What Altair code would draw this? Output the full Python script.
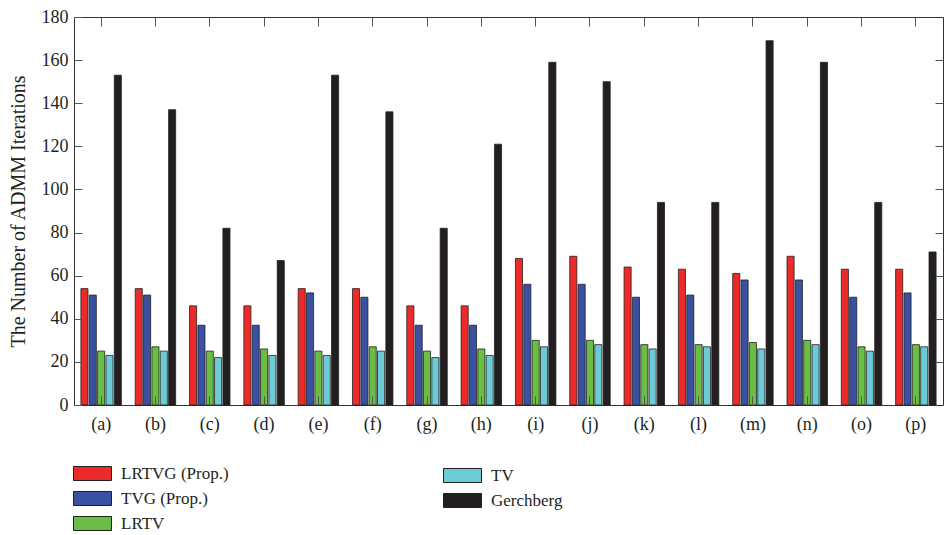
import altair as alt
import pandas as pd

# ---- data ----
images = ["(a)", "(b)", "(c)", "(d)", "(e)", "(f)", "(g)", "(h)",
          "(i)", "(j)", "(k)", "(l)", "(m)", "(n)", "(o)", "(p)"]
methods = ["LRTVG (Prop.)", "TVG (Prop.)", "LRTV", "TV", "Gerchberg"]
lrtvg = [54, 54, 46, 46, 54, 54, 46, 46, 68, 69, 64, 63, 61, 69, 63, 63]
tvg = [51, 51, 37, 37, 52, 50, 37, 37, 56, 56, 50, 51, 58, 58, 50, 52]
lrtv = [25, 27, 25, 26, 25, 27, 25, 26, 30, 30, 28, 28, 29, 30, 27, 28]
tv = [23, 25, 22, 23, 23, 25, 22, 23, 27, 28, 26, 27, 26, 28, 25, 27]
gerchberg = [153, 137, 82, 67, 153, 136, 82, 121, 159, 150, 94, 94, 169, 159, 94, 71]
y_ticks = [0, 20, 40, 60, 80, 100, 120, 140, 160, 180]

colors = ["#ED2A2A", "#3A50A1", "#6ABD45", "#6DCBD6", "#231F20"]

rows = []
for m, vals in zip(methods, [lrtvg, tvg, lrtv, tv, gerchberg]):
    for img, v in zip(images, vals):
        rows.append({"image": img, "method": m, "value": v})
df = pd.DataFrame(rows)

FONT = "Liberation Serif"
INK = "#231F20"
TICK = "#555555"
# wide rectangle (38 x 14 px when symbolSize = 196)
RECT = "M-2.714,-1H2.714V1H-2.714Z"

xscale = alt.Scale(domain=images, paddingInner=0.255, paddingOuter=0.127)
xoscale = alt.Scale(domain=methods, paddingInner=0.15, paddingOuter=0)
yscale = alt.Scale(domain=[0, 180], nice=False)


def legend(x, y):
    return alt.Legend(title=None, orient="none", legendX=x, legendY=y,
                      symbolType=RECT, symbolSize=196, symbolOffset=12,
                      symbolStrokeColor=INK, symbolStrokeWidth=1, symbolOpacity=1,
                      labelFont=FONT, labelFontSize=17, labelColor=INK,
                      labelOffset=20, rowPadding=6, padding=0)


base = alt.Chart(df)

x_bottom = alt.X("image:N", scale=xscale, sort=images,
                 axis=alt.Axis(orient="bottom", title=None, offset=-9, tickSize=9,
                               domain=False, labelPadding=10, labelAngle=0,
                               labelFont=FONT, labelFontSize=18, labelColor=INK,
                               tickColor=TICK, zindex=1))
y_left = alt.Y("value:Q", scale=yscale,
               axis=alt.Axis(orient="left", title="The Number of ADMM Iterations",
                             values=y_ticks, offset=-8, tickSize=8, domain=False,
                             grid=False, labelPadding=6, labelFont=FONT,
                             labelFontSize=18, labelColor=INK, tickColor=TICK,
                             titleFont=FONT, titleFontSize=20, titleFontWeight="normal",
                             titleColor=INK, titlePadding=13, zindex=1))
x_off = alt.XOffset("method:N", scale=xoscale, sort=methods)

bars1 = base.transform_filter(
    alt.FieldOneOfPredicate(field="method", oneOf=methods[:3])
).mark_bar(stroke=INK, strokeWidth=0.8).encode(
    x=x_bottom, xOffset=x_off, y=y_left,
    color=alt.Color("method:N", sort=methods[:3],
                    scale=alt.Scale(domain=methods[:3], range=colors[:3]),
                    legend=legend(-2, 448)),
)

bars2 = base.transform_filter(
    alt.FieldOneOfPredicate(field="method", oneOf=methods[3:])
).mark_bar(stroke=INK, strokeWidth=0.8).encode(
    x=alt.X("image:N", scale=xscale, sort=images, axis=None),
    xOffset=x_off,
    y=alt.Y("value:Q", scale=yscale, axis=None),
    color=alt.Color("method:N", sort=methods[3:],
                    scale=alt.Scale(domain=methods[3:], range=colors[3:]),
                    legend=legend(368, 450)),
)

frame = base.mark_bar(opacity=0).encode(
    x=alt.X("image:N", scale=xscale, sort=images,
            axis=alt.Axis(orient="top", title=None, offset=-9, tickSize=9,
                          domain=False, labels=False, tickColor=TICK, zindex=1)),
    xOffset=x_off,
    y=alt.Y("value:Q", scale=yscale,
            axis=alt.Axis(orient="right", title=None, values=y_ticks[1:-1],
                          offset=-8, tickSize=8, domain=False, labels=False,
                          grid=False, tickColor=TICK, zindex=1)),
)

chart = alt.layer(bars1, bars2, frame).resolve_scale(
    color="independent"
).resolve_axis(
    x="independent", y="independent"
).properties(
    width=869, height=388,
    padding={"left": 0, "top": 0, "right": 0, "bottom": 0},
).configure(
    font=FONT
).configure_view(
    stroke="#333333", strokeWidth=1
).configure_legend(
    labelFont=FONT, labelFontSize=17, labelColor=INK
)

chart.save("out.html", embed_options={"renderer": "svg", "actions": False})
